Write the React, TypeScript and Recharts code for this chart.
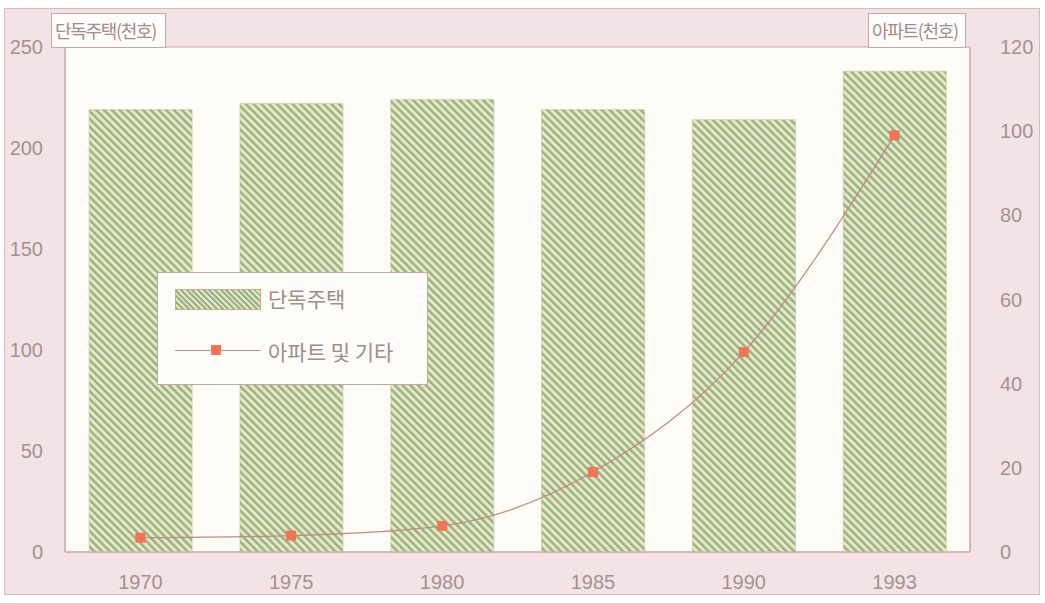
import React from 'react';
import { ComposedChart, Bar, Line, XAxis, YAxis, CartesianGrid, ReferenceArea, Legend } from 'recharts';

const years = ['1970', '1975', '1980', '1985', '1990', '1993'];
const detached = [219, 222, 224, 219, 214, 238];
const apartments = [3.4, 3.9, 6.2, 19, 47.5, 99];
const leftTicks = [0, 50, 100, 150, 200, 250];
const rightTicks = [0, 20, 40, 60, 80, 100, 120];

const data = years.map((y, i) => ({ year: y, detached: detached[i], apt: apartments[i] }));

const TICK_COLOR = '#a3928f';
const BORDER = '#c9a5a5';
const FONT = '"Liberation Sans", Arial, sans-serif';
const KFONT = '"Noto Sans CJK KR", sans-serif';

const SquareDot = (props: any) => {
  const { cx, cy, index } = props;
  if (cx == null || cy == null) return null;
  return <rect key={`d${index}`} x={cx - 5} y={cy - 5} width={10} height={10} fill="#f07458" />;
};

const LegendBox = () => (
  <div
    style={{
      width: 269,
      height: 111,
      background: '#fdfcf9',
      border: `1px solid ${BORDER}`,
      position: 'relative',
      fontFamily: KFONT,
      color: '#a08c8a',
      fontSize: 21,
      whiteSpace: 'nowrap',
    }}
  >
    <div
      style={{
        position: 'absolute',
        left: 17,
        top: 16,
        width: 84,
        height: 19,
        border: '1px solid #c8b090',
        background:
          'repeating-linear-gradient(45deg, #8fb3a3 0px, #8fb3a3 2px, #efe6a6 2px, #efe6a6 4px)',
      }}
    />
    <div style={{ position: 'absolute', left: 110, top: 9, lineHeight: '32px' }}>단독주택</div>
    <div style={{ position: 'absolute', left: 17, top: 77, width: 86, height: 1, background: '#c49088' }} />
    <div style={{ position: 'absolute', left: 53, top: 72, width: 10, height: 10, background: '#f07458' }} />
    <div style={{ position: 'absolute', left: 110, top: 62, lineHeight: '32px' }}>아파트 및 기타</div>
  </div>
);

const labelBox: React.CSSProperties = {
  position: 'absolute',
  top: 13,
  height: 35,
  background: '#fefdfb',
  border: `1px solid ${BORDER}`,
  fontFamily: KFONT,
  fontSize: 18,
  letterSpacing: -1.3,
  color: '#a08c8a',
  lineHeight: '33px',
  padding: '0 3px',
  boxSizing: 'border-box',
  whiteSpace: 'nowrap',
};

export default function App() {
  return (
    <div style={{ position: 'absolute', left: 0, top: 0, width: 1045, height: 603 }}>
      <div
        style={{
          position: 'absolute',
          left: 4,
          top: 8,
          width: 1036,
          height: 587,
          background: '#f4e3e6',
          border: `1px solid #d9b9bd`,
          boxSizing: 'border-box',
        }}
      />
      <div style={{ position: 'absolute', left: 0, top: 0 }}>
        <ComposedChart width={1045} height={603} data={data} margin={{ top: 47, right: 5, bottom: 6, left: 5 }} barCategoryGap="16%">
          <defs>
            <pattern id="hatch" width="5.5" height="5.5" patternUnits="userSpaceOnUse" patternTransform="rotate(-45)">
              <rect x="0" y="0" width="5.5" height="5.5" fill="#f1e8ac" />
              <rect x="0" y="0" width="2.5" height="5.5" fill="#8db1a2" />
            </pattern>
          </defs>
          <CartesianGrid horizontal={false} vertical={false} fill="#fefcf7" />
          <XAxis
            dataKey="year"
            axisLine={{ stroke: BORDER }}
            tickLine={false}
            tickSize={0}
            tickMargin={23}
            height={45}
            tick={{ fill: TICK_COLOR, fontSize: 20, fontFamily: FONT }}
          />
          <YAxis
            yAxisId="left"
            domain={[0, 250]}
            ticks={leftTicks}
            width={60}
            axisLine={{ stroke: BORDER }}
            tickLine={false}
            tickSize={0}
            tickMargin={22}
            tick={{ fill: TICK_COLOR, fontSize: 20, fontFamily: FONT }}
          />
          <YAxis
            yAxisId="right"
            orientation="right"
            domain={[0, 120]}
            ticks={rightTicks}
            width={70}
            axisLine={{ stroke: BORDER }}
            tickLine={false}
            tickSize={0}
            tickMargin={30}
            tick={{ fill: TICK_COLOR, fontSize: 20, fontFamily: FONT }}
          />
          <ReferenceArea yAxisId="left" y1={0} y2={250} fill="none" stroke={BORDER} strokeWidth={1} />
          <Bar
            yAxisId="left"
            dataKey="detached"
            name="단독주택"
            fill="url(#hatch)"
            stroke="#c9bf9a"
            strokeWidth={0.6}
            isAnimationActive={false}
          />
          <Line
            yAxisId="right"
            type="monotone"
            dataKey="apt"
            name="아파트 및 기타"
            stroke="#bf8a80"
            strokeWidth={1.2}
            dot={SquareDot}
            activeDot={false}
            isAnimationActive={false}
          />
          <Legend
            layout="horizontal"
            verticalAlign="middle"
            align="center"
            content={() => <LegendBox />}
            wrapperStyle={{ position: 'absolute', left: 157, top: 272, width: 271, height: 113 }}
          />
        </ComposedChart>
      </div>
      <div style={{ ...labelBox, left: 51, width: 115 }}>단독주택(천호)</div>
      <div style={{ ...labelBox, left: 868, width: 98 }}>아파트(천호)</div>
    </div>
  );
}
